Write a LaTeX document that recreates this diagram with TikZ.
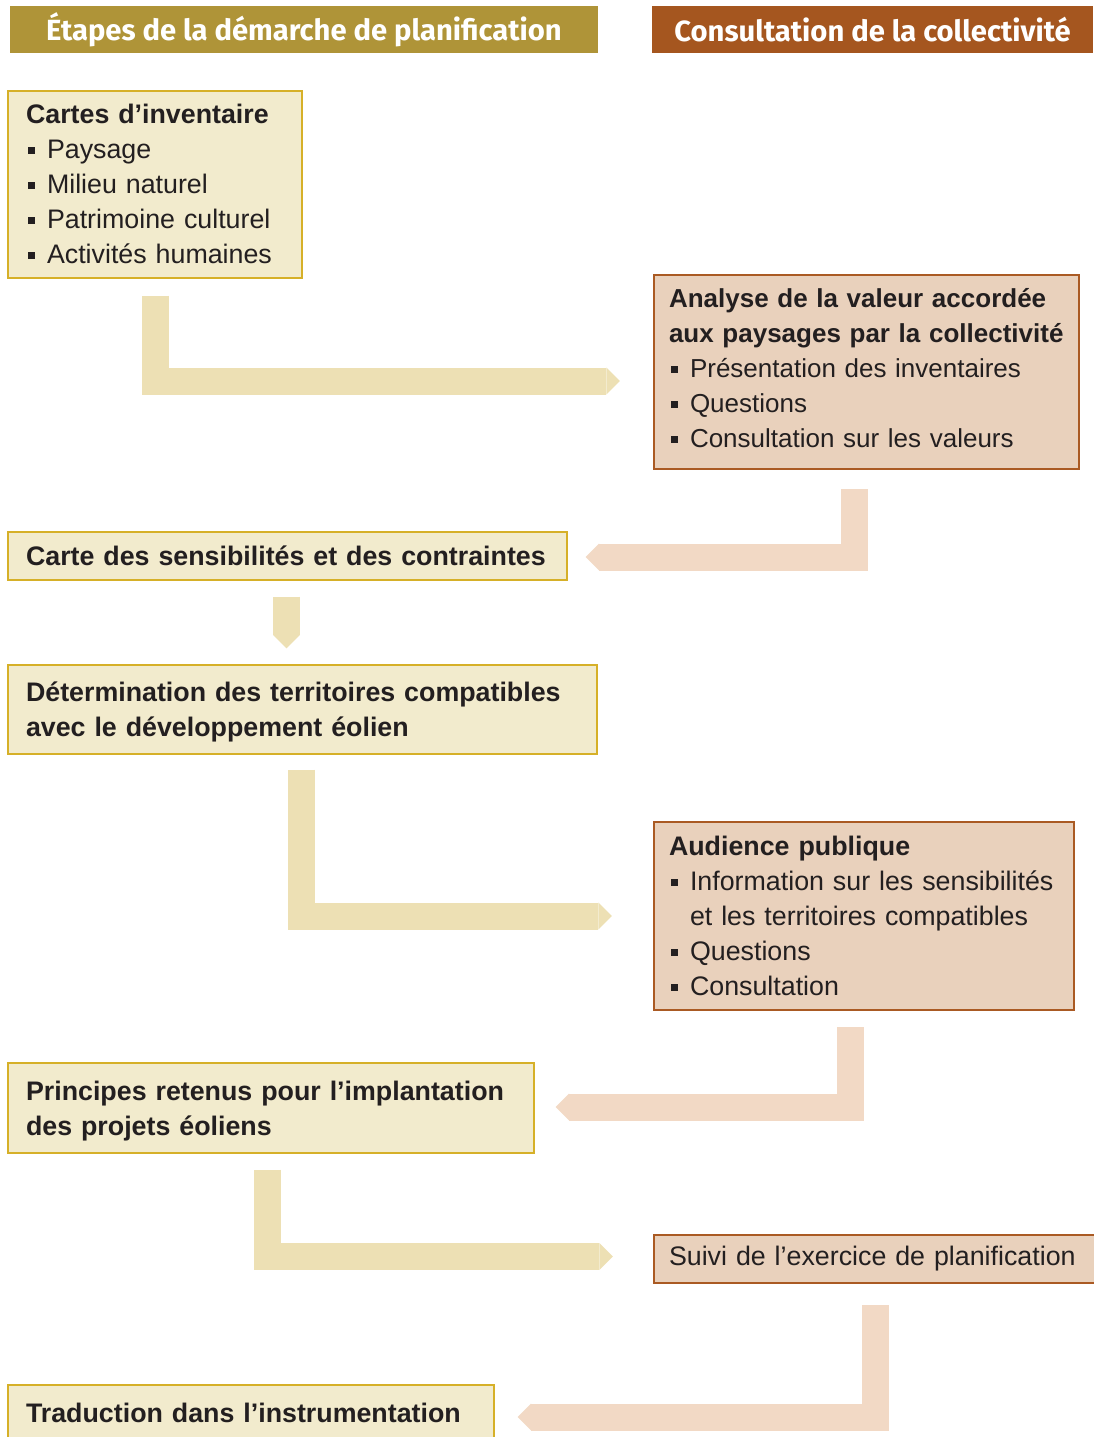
\documentclass[tikz,border=0pt]{standalone}
\usepackage{fontspec}
\setmainfont{Liberation Sans}
\newfontfamily\entete{Fira Sans}
\usepackage{tikz}
\usepackage{xcolor}
\usetikzlibrary{arrows.meta,calc}
\definecolor{ocre}{RGB}{175,148,56}
\definecolor{brique}{RGB}{165,86,31}
\definecolor{creme}{RGB}{242,235,205}
\definecolor{dore}{RGB}{214,176,40}
\definecolor{chair}{RGB}{233,209,188}
\definecolor{rouille}{RGB}{170,90,35}
\definecolor{flecheocre}{RGB}{237,224,180}
\definecolor{flecherose}{RGB}{242,217,197}
\definecolor{encre}{RGB}{35,31,32}

\newcommand{\puce}{\makebox[21pt][l]{\hspace{2pt}\rule[4.5pt]{7pt}{7pt}}}
\newcommand{\retrait}{\hspace*{21pt}}

\begin{document}
\begin{tikzpicture}[x=1pt, y=1pt,
    % Node styles
    entete/.style={rectangle, text=white, minimum height=47pt, align=center,
                   font=\entete\bfseries\fontsize{29.2}{34}\selectfont},
    etape/.style={rectangle, fill=creme, draw=dore, line width=1.2pt, text=encre,
                  inner xsep=18pt, inner ysep=0pt, text height=19pt, align=left,
                  font=\fontsize{26.8}{35}\selectfont},
    consult/.style={rectangle, fill=chair, draw=rouille, line width=2.2pt, text=encre,
                    inner xsep=15pt, inner ysep=0pt, text height=19pt, align=left,
                    font=\fontsize{26.8}{35}\selectfont},
    % Arrow styles
    versdroite/.style={draw=flecheocre, line width=27pt, line join=miter,
                       -{Triangle[length=13.5pt, width=27pt, line width=0pt, fill=flecheocre]}},
    versgauche/.style={draw=flecherose, line width=27pt, line join=miter,
                       -{Triangle[length=13.5pt, width=27pt, line width=0pt, fill=flecherose]}}
]

\useasboundingbox (0,0) rectangle (1093,-1437);

% Headers
\node[entete, fill=ocre, minimum width=588pt] (titreetapes) at (304,-29.5) {Étapes de la démarche de planification};
\node[entete, fill=brique, minimum width=441pt] (titreconsult) at (872.5,-29.5) {Consultation de la collectivité};

% Planning steps (left column)
\node[etape, text width=258pt, minimum height=187pt] (inventaire) at (155,-184.5) {%
    \textbf{Cartes d’inventaire}\\
    \puce Paysage\\
    \puce Milieu naturel\\
    \puce Patrimoine culturel\\
    \puce Activités humaines};
\node[etape, text width=523pt, minimum height=48pt] (sensib) at (287.5,-556) {\textbf{Carte des sensibilités et des contraintes}};
\node[etape, text width=553pt, text depth=35pt, minimum height=89pt] (determ) at (302.5,-709.5) {%
    \textbf{Détermination des territoires compatibles}\\
    \textbf{avec le développement éolien}};
\node[etape, text width=490pt, text depth=35pt, minimum height=90pt] (principes) at (271,-1108) {%
    \textbf{Principes retenus pour l’implantation}\\
    \textbf{des projets éoliens}};
\node[etape, text width=450pt, minimum height=56pt] (traduction) at (251,-1413) {\textbf{Traduction dans l’instrumentation}};

% Community consultation (right column)
\node[consult, text width=395pt, text depth=148pt, minimum height=194pt, font=\fontsize{26}{35}\selectfont] (analyse) at (866.5,-372) {%
    \textbf{Analyse de la valeur accordée}\\
    \textbf{aux paysages par la collectivité}\\
    \puce Présentation des inventaires\\
    \puce Questions\\
    \puce Consultation sur les valeurs};
\node[consult, text width=390pt, minimum height=188pt] (audience) at (864,-916) {%
    \textbf{Audience publique}\\
    \puce Information sur les sensibilités\\
    \retrait et les territoires compatibles\\
    \puce Questions\\
    \puce Consultation};
\node[consult, text width=426pt, minimum height=48pt] (suivi) at (882,-1259) {Suivi de l’exercice de planification};

% Flow arrows
\draw[versdroite] ([yshift=-17pt]inventaire.south) |- ([xshift=-33pt,yshift=-9pt]analyse.west);
\draw[versgauche] ([xshift=-12.5pt,yshift=-19pt]analyse.south) |- ([xshift=18pt,yshift=-1pt]sensib.east);
\draw[versdroite] ([xshift=-1pt,yshift=-16pt]sensib.south) -- ([xshift=-1pt,yshift=16pt]determ.north -| sensib.south);
\draw[versdroite] ([xshift=-1pt,yshift=-15pt]determ.south) |- ([xshift=-41pt]audience.west);
\draw[versgauche] ([xshift=-14pt,yshift=-16pt]audience.south) |- ([xshift=21pt,yshift=1pt]principes.east);
\draw[versdroite] ([xshift=-3.5pt,yshift=-16pt]principes.south) |- ([xshift=-40pt,yshift=2.5pt]suivi.west);
\draw[versgauche] ([xshift=-6.5pt,yshift=-21pt]suivi.south) |- ([xshift=23pt,yshift=-4pt]traduction.east);

\end{tikzpicture}
\end{document}
